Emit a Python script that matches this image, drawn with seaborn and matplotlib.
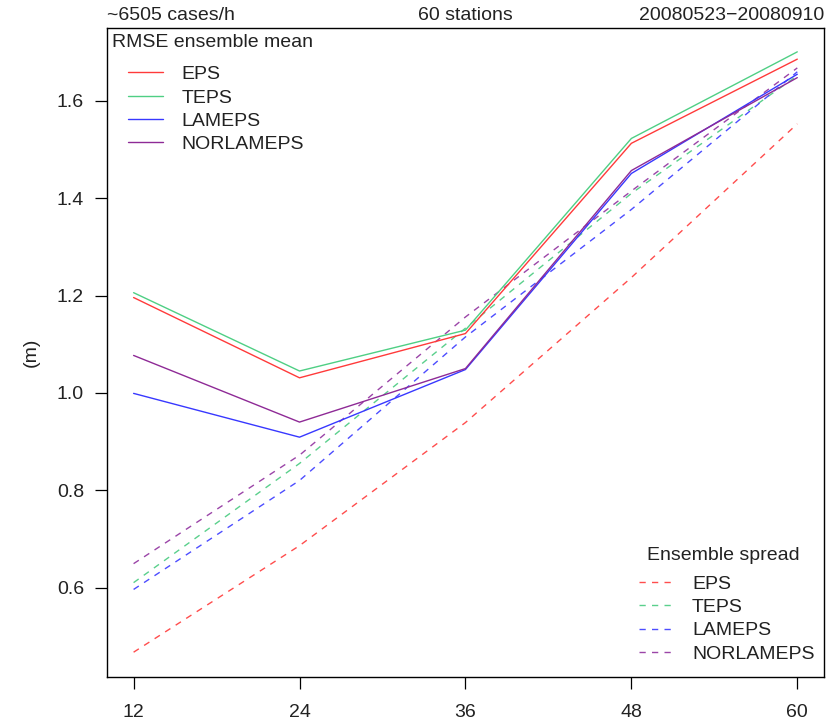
import matplotlib
matplotlib.use("Agg")
import matplotlib.pyplot as plt
from matplotlib.lines import Line2D
import seaborn as sns
import pandas as pd

# Lead times (h)
lead_times = [12, 24, 36, 48, 60]
systems = ["EPS", "TEPS", "LAMEPS", "NORLAMEPS"]

# RMSE of the ensemble mean (m)
rmse_eps = [1.196, 1.031, 1.122, 1.513, 1.686]
rmse_teps = [1.206, 1.045, 1.129, 1.523, 1.701]
rmse_lameps = [0.999, 0.909, 1.048, 1.451, 1.655]
rmse_norlameps = [1.077, 0.940, 1.050, 1.457, 1.648]

# Ensemble spread (m)
spread_eps = [0.467, 0.686, 0.939, 1.237, 1.553]
spread_teps = [0.610, 0.855, 1.133, 1.410, 1.652]
spread_lameps = [0.596, 0.820, 1.115, 1.377, 1.660]
spread_norlameps = [0.649, 0.872, 1.156, 1.415, 1.668]

colors = {"EPS": "#FF3A3A", "TEPS": "#4FCF84", "LAMEPS": "#3838FF",
          "NORLAMEPS": "#8E2A96"}
spread_colors = {"EPS": "#FF4D4D", "TEPS": "#5AD08C", "LAMEPS": "#4D4DFF",
                 "NORLAMEPS": "#9B45A8"}

rmse = pd.DataFrame({
    "lead": lead_times * 4,
    "value": rmse_eps + rmse_teps + rmse_lameps + rmse_norlameps,
    "system": [s for s in systems for _ in lead_times],
})
spread = pd.DataFrame({
    "lead": lead_times * 4,
    "value": spread_eps + spread_teps + spread_lameps + spread_norlameps,
    "system": [s for s in systems for _ in lead_times],
})

FS = 14
TXT = "#222222"

sns.set_theme(style="ticks")
plt.rcParams["font.family"] = ["Liberation Sans", "DejaVu Sans"]
plt.rcParams["font.size"] = FS

fig = plt.figure(figsize=(8.33, 7.22), dpi=100)
ax = fig.add_axes([0.1285, 0.0623, 0.8605, 0.8989])

sns.lineplot(data=spread, x="lead", y="value", hue="system",
             palette=spread_colors, hue_order=systems, ax=ax, legend=False,
             linewidth=1.0, dashes=False, linestyle=(0, (4.5, 4.5)))
sns.lineplot(data=rmse, x="lead", y="value", hue="system",
             palette=colors, hue_order=systems, ax=ax, legend=False,
             linewidth=1.0)

ax.set_xlim(10.08, 61.92)
ax.set_ylim(0.416, 1.75)
ax.set_xticks(lead_times)
ax.set_xticklabels([str(t) for t in lead_times])
ax.set_yticks([0.6, 0.8, 1.0, 1.2, 1.4, 1.6])
ax.set_yticklabels(["0.6", "0.8", "1.0", "1.2", "1.4", "1.6"])
ax.tick_params(axis="both", direction="out", length=8.5, width=0.9,
               color="black", labelsize=FS, labelcolor=TXT)
ax.tick_params(axis="y", pad=8)
ax.tick_params(axis="x", pad=11)
for sp in ax.spines.values():
    sp.set_visible(True)
    sp.set_color("black")
    sp.set_linewidth(1.0)
ax.set_xlabel("")
ax.set_ylabel("(m)", fontsize=FS, color=TXT, labelpad=12)

# Header line above the panel
ax.text(0.0, 1.006, "~6505 cases/h", transform=ax.transAxes, ha="left",
        va="bottom", fontsize=FS, color=TXT)
ax.text(0.5, 1.006, "60 stations", transform=ax.transAxes, ha="center",
        va="bottom", fontsize=FS, color=TXT)
ax.text(1.0, 1.006, "20080523\u221220080910", transform=ax.transAxes,
        ha="right", va="bottom", fontsize=FS, color=TXT)

solid_handles = [Line2D([], [], color=colors[s], lw=1.0) for s in systems]
dash_handles = [Line2D([], [], color=spread_colors[s], lw=1.0,
                       linestyle=(0, (4.5, 4.5))) for s in systems]

leg_kw = dict(frameon=False, fontsize=FS, handlelength=1.8,
              handletextpad=0.95, labelspacing=0.29, borderpad=0.0,
              borderaxespad=0.0)

# RMSE legend (top left)
ax.text(0.007, 0.978, "RMSE ensemble mean", transform=ax.transAxes,
        ha="left", va="center", fontsize=FS, color=TXT)
leg1 = ax.legend(solid_handles, systems, loc="upper left",
                 bbox_to_anchor=(0.029, 0.942), **leg_kw)
for t in leg1.get_texts():
    t.set_color(TXT)
ax.add_artist(leg1)

# Spread legend (bottom right)
ax.text(0.86, 0.188, "Ensemble spread", transform=ax.transAxes,
        ha="center", va="center", fontsize=FS, color=TXT)
leg2 = ax.legend(dash_handles, systems, loc="lower right",
                 bbox_to_anchor=(0.987, 0.022), **leg_kw)
for t in leg2.get_texts():
    t.set_color(TXT)

fig.savefig("out.png", dpi=100, facecolor="white")
